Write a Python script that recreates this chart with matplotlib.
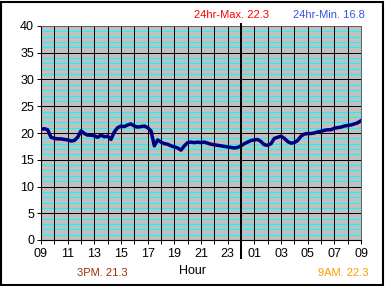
import numpy as np
import matplotlib
matplotlib.use("Agg")
import matplotlib.pyplot as plt
from matplotlib.patches import Rectangle

plt.rcParams["font.family"] = ["Liberation Sans", "DejaVu Sans"]

# 15-minute readings, starting 09:00 and ending 09:00 next day
temps = [
    20.7, 20.8, 20.6, 19.2,   # 09
    19.0, 18.9, 18.9, 18.8,   # 10
    18.7, 18.5, 18.6, 19.2,   # 11
    20.4, 19.9, 19.6, 19.6,   # 12
    19.5, 19.2, 19.6, 19.3,   # 13
    19.4, 18.8, 20.2, 21.0,   # 14
    21.3, 21.2, 21.5, 21.7,   # 15
    21.3, 21.1, 21.2, 21.3,   # 16
    21.0, 20.4, 17.6, 18.7,   # 17
    18.3, 18.0, 17.9, 17.6,   # 18
    17.4, 17.2, 16.8, 17.6,   # 19
    18.2, 18.3, 18.2, 18.3,   # 20
    18.2, 18.3, 18.1, 17.9,   # 21
    17.8, 17.7, 17.6, 17.5,   # 22
    17.4, 17.3, 17.2, 17.3,   # 23
    17.6, 18.0, 18.3, 18.6,   # 00
    18.7, 18.8, 18.4, 17.8,   # 01
    17.7, 18.0, 19.0, 19.2,   # 02
    19.4, 19.0, 18.4, 18.1,   # 03
    18.2, 18.6, 19.4, 19.8,   # 04
    19.9, 19.9, 20.0, 20.2,   # 05
    20.3, 20.5, 20.6, 20.6,   # 06
    20.9, 21.0, 21.1, 21.3,   # 07
    21.4, 21.5, 21.7, 21.9,   # 08
    22.3,                     # 09
]
hour_labels = ["09", "11", "13", "15", "17", "19", "21", "23",
               "01", "03", "05", "07", "09"]
max_text = "24hr-Max. 22.3"
min_text = "24hr-Min. 16.8"
pm_text = "3PM. 21.3"
am_text = "9AM. 22.3"

t = np.arange(len(temps)) * 0.25

fig = plt.figure(figsize=(3.85, 2.86), dpi=100)
fig.patch.set_facecolor("white")
ax = fig.add_axes([41/385, 46/286, 320/385, 214/286])
ax.set_facecolor("#C0C0C0")

# cyan lines at every degree, black every 5
for v in range(1, 40):
    if v % 5:
        ax.axhline(v, color="#00FFFF", lw=0.5, zorder=1, antialiased=False)
for v in range(5, 41, 5):
    ax.axhline(v, color="black", lw=0.5, zorder=2, antialiased=False)
for h in range(1, 25):
    ax.axvline(h, color="black", lw=0.5, zorder=2, antialiased=False)

ax.plot(t, temps, color="#000080", lw=2.5, zorder=4, solid_joinstyle="round")

# midnight marker
ax.axvline(15, ymin=-0.085, ymax=1.01, color="black", lw=1.1, zorder=5,
           clip_on=False, antialiased=False)

ax.set_xlim(0, 24)
ax.set_ylim(0, 40)
ax.set_yticks(range(0, 41, 5))
ax.set_xticks(range(0, 25, 2))
ax.set_xticklabels(hour_labels)
ax.set_xticks(range(1, 25, 2), minor=True)
ax.tick_params(axis="both", which="both", length=3, width=0.7, color="black",
               labelsize=9, pad=2)
ax.tick_params(axis="x", pad=3)
for s in ["left", "bottom"]:
    ax.spines[s].set_color("black")
    ax.spines[s].set_linewidth(0.8)
for s in ["top", "right"]:
    ax.spines[s].set_color("#606060")
    ax.spines[s].set_linewidth(0.7)

fig.text(231/385, 1 - 15/286, max_text, color="#FF0000", fontsize=8, ha="center", va="center")
fig.text(329/385, 1 - 15/286, min_text, color="#3355DD", fontsize=8, ha="center", va="center")
fig.text(102/385, 1 - 273/286, pm_text, color="#993300", fontsize=8, ha="center", va="center")
fig.text(343/385, 1 - 273/286, am_text, color="#FF9900", fontsize=8, ha="center", va="center")
fig.text(193/385, 1 - 271/286, "Hour", color="black", fontsize=9, ha="center", va="center")

fig.patches.append(Rectangle((1/385, 1/286), 382/385, 283/286, transform=fig.transFigure,
                             fill=False, edgecolor="black", lw=1.5))

fig.savefig("out.png", dpi=100)
